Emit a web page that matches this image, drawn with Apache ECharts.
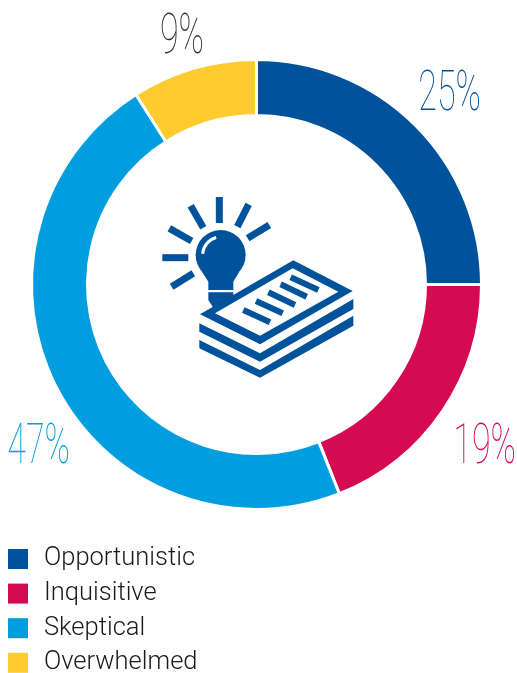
<!DOCTYPE html>
<html><head><meta charset="utf-8">
<style>html,body{margin:0;padding:0;background:#fff;overflow:hidden;height:673px}#c{width:517px;height:700px}</style>
<script src="https://cdn.jsdelivr.net/npm/echarts@6/dist/echarts.min.js"></script>
</head><body><div id="c"></div>
<script>
var categories = ['Opportunistic','Inquisitive','Skeptical','Overwhelmed'];
var values = [25,19,47,9];
var colors = ['#00529b','#d50b52','#009ddf','#ffcb2f'];
var labelAnchors = [[481,124],[516,477],[70,477],[204,67]];
var textCol = ['#00529b','#d50b52','#009ddf','#333333'];
var iconColor = '#00529b';
var rays = [[208,36,208,114],[122,62,160,128],[58,130,125,168],[37,218,115,218],[65,305,130,265],[296,58,262,125],[358,120,293,160]];
var bars = [[280,375,360,412],[318,348,398,385],[355,322,435,360],[392,298,470,335],[422,277,505,315]];
var chart = echarts.init(document.getElementById('c'));
var icon = [];
rays.forEach(function(r){icon.push({type:'line',shape:{x1:r[0],y1:r[1],x2:r[2],y2:r[3]},style:{stroke:iconColor,lineWidth:21}});});
icon.push({type:'polygon',shape:{points:[[156,260],[268,260],[250,290],[250,315],[175,315],[175,290]]},style:{fill:iconColor}});
icon.push({type:'circle',shape:{cx:212,cy:210,r:75},style:{fill:iconColor}});
icon.push({type:'arc',shape:{cx:212,cy:210,r:54,startAngle:Math.PI*1.02,endAngle:Math.PI*1.42},style:{stroke:'#fff',fill:null,lineWidth:9}});
icon.push({type:'polygon',shape:{points:[[175,322],[250,322],[250,345],[225,368],[190,368],[175,345]]},style:{fill:iconColor}});
icon.push({type:'polygon',shape:{points:[[430,226],[608,318],[330,478],[150,388]]},style:{fill:iconColor}});
icon.push({type:'polygon',shape:{points:[[428,250],[565,320],[330,452],[195,385]]},style:{fill:'#fff'}});
bars.forEach(function(b){icon.push({type:'line',shape:{x1:b[0],y1:b[1],x2:b[2],y2:b[3]},style:{stroke:iconColor,lineWidth:18}});});
icon.push({type:'polygon',shape:{points:[[148,415],[330,505],[610,342],[610,372],[330,530],[148,440]]},style:{fill:iconColor}});
icon.push({type:'polygon',shape:{points:[[148,465],[330,555],[610,392],[610,422],[330,578],[148,490]]},style:{fill:iconColor}});
var graphics = [{type:'group',x:150,y:185,scaleX:1/3,scaleY:1/3,children:icon}];
values.forEach(function(v,i){
  graphics.push({type:'text',x:labelAnchors[i][0],y:labelAnchors[i][1],scaleX:0.62,
    style:{text:v+'%',fill:textCol[i],font:'100 55px Roboto',textAlign:'right',textVerticalAlign:'bottom'}});
});
chart.setOption({
  animation:false,
  legend:{orient:'vertical',left:8,top:546,itemWidth:20,itemHeight:20,itemGap:8.6,icon:'rect',
    itemStyle:{borderWidth:0},
    data:categories,selectedMode:false,textStyle:{fontFamily:'Roboto',fontWeight:300,fontSize:25.5,color:'#1a1a1a',padding:[0,0,0,11]},padding:0},
  series:[{type:'pie',center:[256.5,284.5],radius:[169,225],startAngle:90,clockwise:true,silent:true,
    label:{show:false},labelLine:{show:false},
    itemStyle:{borderColor:'#fff',borderWidth:3},
    data:categories.map(function(c,i){return {name:c,value:values[i],itemStyle:{color:colors[i]}};})}],
  graphic:graphics
});
</script></body></html>
